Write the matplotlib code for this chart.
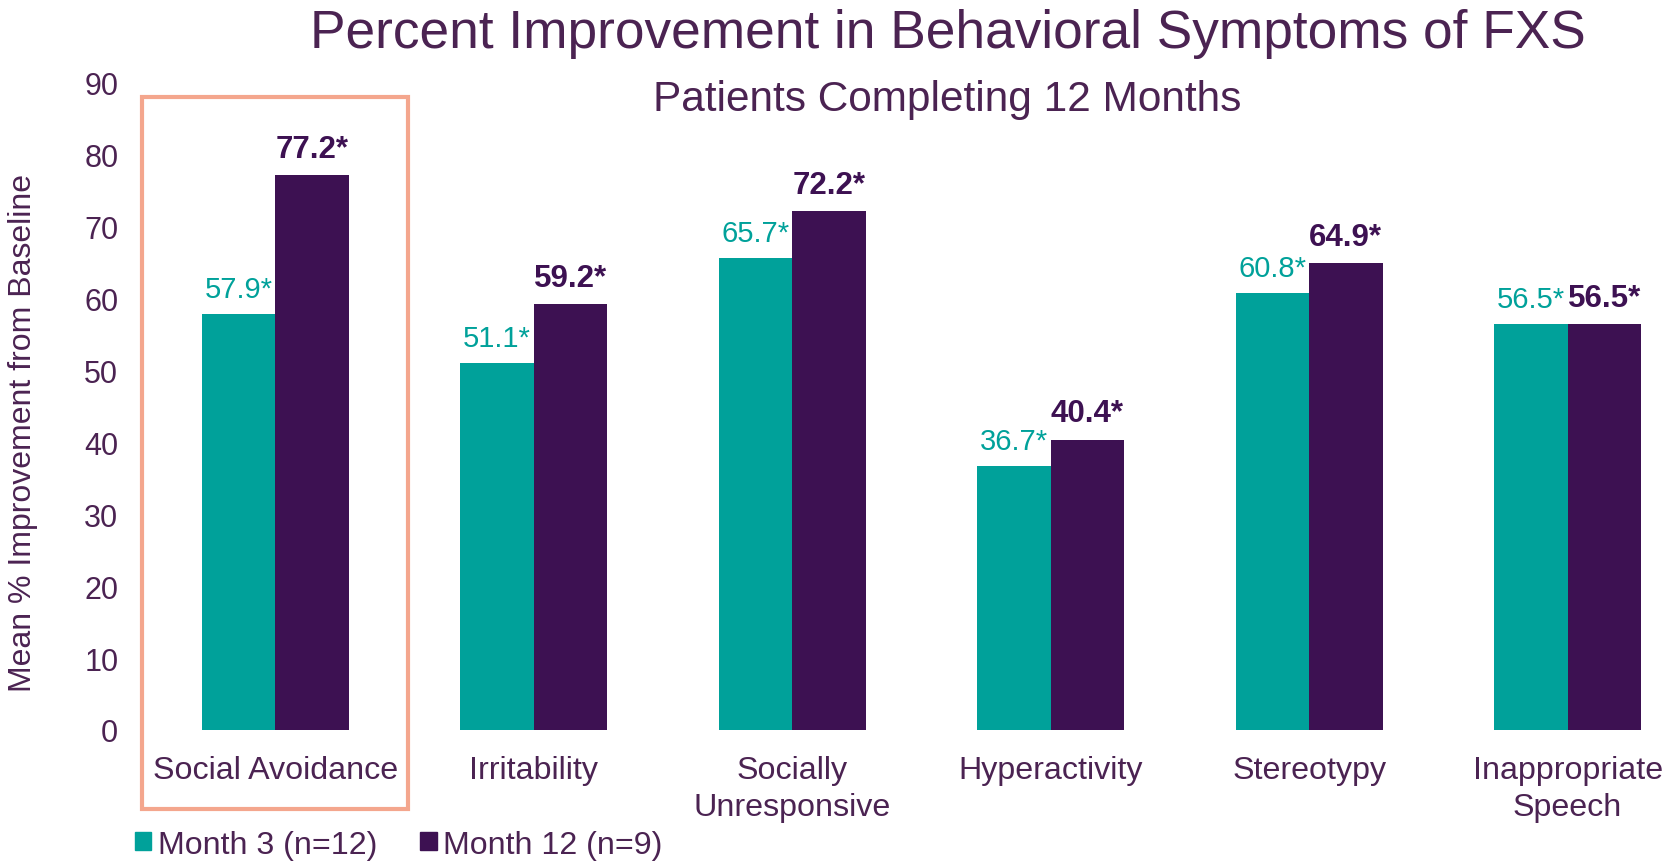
import numpy as np
import matplotlib
matplotlib.use("Agg")
import matplotlib.pyplot as plt
from matplotlib.patches import Patch, Rectangle

plt.rcParams["font.family"] = ["Liberation Sans", "DejaVu Sans"]

categories = ["Social Avoidance", "Irritability", "Socially\nUnresponsive",
              "Hyperactivity", "Stereotypy", "Inappropriate\nSpeech"]
month3 = [57.9, 51.1, 65.7, 36.7, 60.8, 56.5]
month12 = [77.2, 59.2, 72.2, 40.4, 64.9, 56.5]
series_labels = ["Month 3 (n=12)", "Month 12 (n=9)"]
yticks = [0, 10, 20, 30, 40, 50, 60, 70, 80, 90]

TEAL = "#00A19A"
PURPLE = "#3D1152"
TEXT = "#4B2352"
BOX = "#F4A68D"

fig = plt.figure(figsize=(16.71, 8.62), dpi=100)
ax = fig.add_axes([0.0874, 0.152, 0.9126, 0.7506])

x = np.arange(len(categories))
w = 0.284
b1 = ax.bar(x - w / 2, month3, w, color=TEAL)
b2 = ax.bar(x + w / 2, month12, w, color=PURPLE)

for rect, v in zip(b1, month3):
    ax.annotate(f"{v}*", (rect.get_x() + rect.get_width() / 2, v),
                xytext=(0, 8), textcoords="offset points", ha="center", va="bottom",
                fontsize=21, color=TEAL)
for rect, v in zip(b2, month12):
    ax.annotate(f"{v}*", (rect.get_x() + rect.get_width() / 2, v),
                xytext=(0, 8), textcoords="offset points", ha="center", va="bottom",
                fontsize=22.5, color=PURPLE, fontweight="bold")

ax.set_xlim(-0.5, 5.4)
ax.set_ylim(0, 90)
ax.set_yticks(yticks)
ax.set_xticks(x)
ax.set_xticklabels(categories, fontsize=23.2, color=TEXT, linespacing=1.3)
ax.tick_params(axis="y", length=0, pad=20, labelsize=22, labelcolor=TEXT)
ax.tick_params(axis="x", length=0, pad=18)
for s in ax.spines.values():
    s.set_visible(False)
ax.set_ylabel("Mean % Improvement from Baseline", fontsize=23, color=TEXT)
ax.yaxis.set_label_coords(-0.071, 0.46)

# highlight box around first category
ax.add_patch(Rectangle((-0.515, -11.0), 1.03, 99.0, fill=False, edgecolor=BOX,
                       linewidth=3, clip_on=False))

fig.text(0.567, 0.96, "Percent Improvement in Behavioral Symptoms of FXS",
         ha="center", va="center", fontsize=38.3, color=TEXT)
fig.text(0.567, 0.884, "Patients Completing 12 Months",
         ha="center", va="center", fontsize=30.5, color=TEXT)

handles = [Patch(color=TEAL), Patch(color=PURPLE)]
fig.legend(handles, series_labels, loc="center left", bbox_to_anchor=(0.081, 0.019),
           frameon=False, ncol=2, fontsize=23.1, labelcolor=TEXT,
           handlelength=0.5, handleheight=0.5, handletextpad=0.2, columnspacing=1.35,
           borderpad=0, borderaxespad=0)

fig.savefig("out.png", dpi=100)
